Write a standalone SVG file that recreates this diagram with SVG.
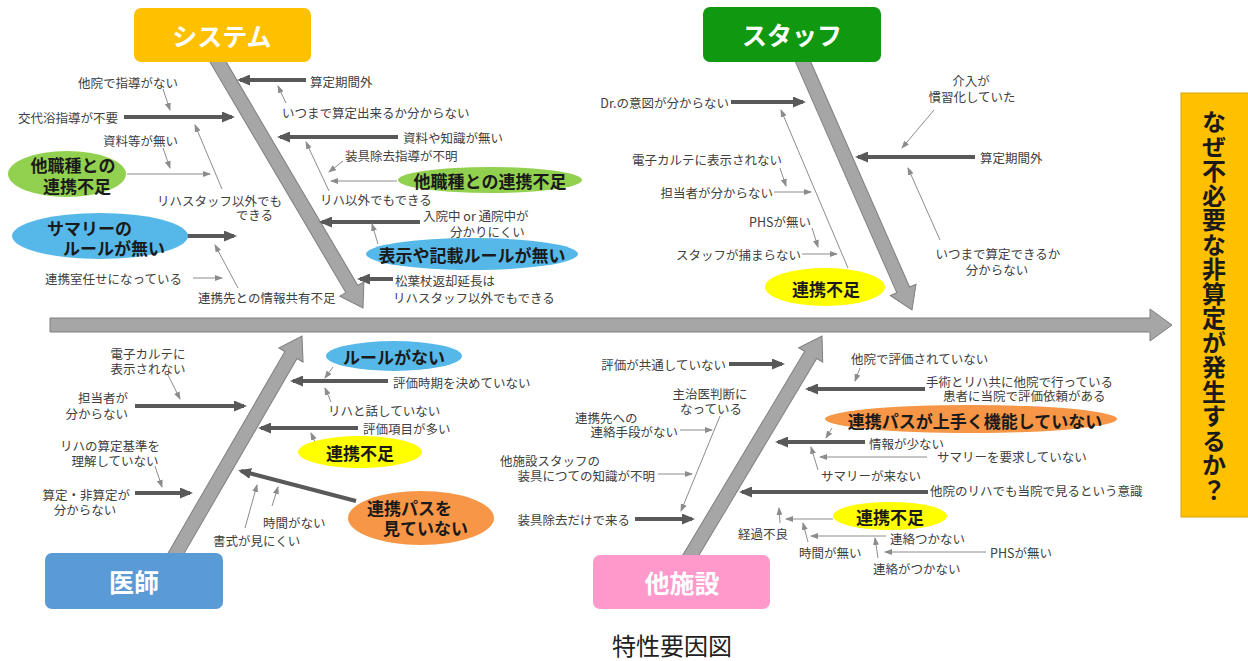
<svg xmlns="http://www.w3.org/2000/svg" width="1248" height="661" viewBox="0 0 1248 661">
<style>
.t{font-family:"Noto Sans CJK JP","Noto Sans",sans-serif;font-size:12.5px;fill:#404040;dominant-baseline:central}
.m{text-anchor:middle}.e{text-anchor:end}
.b{font-family:"Noto Sans CJK JP","Noto Sans",sans-serif;font-size:17px;font-weight:bold;fill:#1a1a1a;dominant-baseline:central}
.bx{font-family:"Noto Sans CJK JP","Noto Sans",sans-serif;font-size:25px;font-weight:bold;fill:#ffffff;dominant-baseline:central;text-anchor:middle}
.thick{stroke:#595959;stroke-width:4;fill:none;marker-end:url(#ah)}
.thin{stroke:#8c8c8c;stroke-width:1;fill:none;marker-end:url(#at)}
.bone{fill:#a6a6a6;stroke:#7f7f7f;stroke-width:1}
</style>
<defs>
<marker id="ah" viewBox="0 0 13 11" refX="10" refY="5.5" markerWidth="13" markerHeight="11" markerUnits="userSpaceOnUse" orient="auto"><path d="M0,0L13,5.5L0,11z" fill="#595959"/></marker>
<marker id="at" viewBox="0 0 8 6" refX="7" refY="3" markerWidth="8" markerHeight="6" markerUnits="userSpaceOnUse" orient="auto"><path d="M0,0L8,3L0,6z" fill="#8c8c8c"/></marker>
</defs>
<rect width="1248" height="661" fill="#ffffff"/>

<g id="spine">
<polygon class="bone" points="50,318 1150,318 1150,309 1172,325 1150,341 1150,332 50,332"/>
<polygon class="bone" transform="translate(363,308) rotate(59.5)" points="-294,-7 -22,-7 -22,-14 0,0 -22,14 -22,7 -294,7"/>
<polygon class="bone" transform="translate(912,310) rotate(66.3)" points="-279,-7 -22,-7 -22,-14 0,0 -22,14 -22,7 -279,7"/>
<polygon class="bone" transform="translate(302,336) rotate(-59.9)" points="-262,-7 -22,-7 -22,-14 0,0 -22,14 -22,7 -262,7"/>
<polygon class="bone" transform="translate(822,336) rotate(-59.1)" points="-264,-7 -22,-7 -22,-14 0,0 -22,14 -22,7 -264,7"/>
</g>

<g id="connectors">
<line class="thin" x1="163" y1="89" x2="170" y2="110"/>
<line class="thick" x1="124" y1="117" x2="232" y2="117"/>
<line class="thin" x1="163" y1="148" x2="170" y2="168"/>
<line class="thin" x1="127" y1="174" x2="210" y2="174"/>
<line class="thin" x1="222" y1="189" x2="195" y2="125"/>
<line class="thick" x1="187" y1="236" x2="234" y2="236"/>
<line class="thin" x1="193" y1="278" x2="222" y2="278"/>
<line class="thin" x1="238" y1="288" x2="215" y2="245"/>
<line class="thick" x1="306" y1="80" x2="240" y2="80"/>
<line class="thin" x1="286" y1="103" x2="278" y2="86"/>
<line class="thick" x1="398" y1="137" x2="280" y2="137"/>
<line class="thin" x1="343" y1="161" x2="329" y2="172"/>
<line class="thin" x1="397" y1="181" x2="331" y2="181"/>
<line class="thin" x1="329" y1="191" x2="306" y2="142"/>
<line class="thick" x1="420" y1="222" x2="322" y2="222"/>
<line class="thin" x1="378" y1="244" x2="372" y2="224"/>
<line class="thick" x1="393" y1="279" x2="360" y2="279"/>
<line class="thick" x1="731" y1="102" x2="803" y2="102"/>
<line class="thin" x1="780" y1="168" x2="786" y2="186"/>
<line class="thin" x1="774" y1="192" x2="811" y2="192"/>
<line class="thin" x1="812" y1="228" x2="818" y2="247"/>
<line class="thin" x1="802" y1="254" x2="837" y2="254"/>
<line class="thin" x1="848" y1="268" x2="781" y2="110"/>
<line class="thin" x1="934" y1="110" x2="902" y2="148"/>
<line class="thick" x1="975" y1="157" x2="858" y2="157"/>
<line class="thin" x1="940" y1="240" x2="908" y2="168"/>
<line class="thin" x1="168" y1="375" x2="180" y2="399"/>
<line class="thick" x1="135" y1="406" x2="244" y2="406"/>
<line class="thin" x1="155" y1="466" x2="162" y2="487"/>
<line class="thick" x1="135" y1="493" x2="190" y2="493"/>
<line class="thin" x1="333" y1="367" x2="325" y2="378"/>
<line class="thick" x1="388" y1="381" x2="293" y2="381"/>
<line class="thin" x1="331" y1="402" x2="325" y2="388"/>
<line class="thick" x1="358" y1="428" x2="261" y2="428"/>
<line class="thin" x1="315" y1="442" x2="311" y2="433"/>
<line class="thick" x1="356" y1="501" x2="241" y2="471"/>
<line class="thin" x1="272" y1="506" x2="278" y2="487"/>
<line class="thin" x1="245" y1="528" x2="257" y2="485"/>
<line class="thick" x1="729" y1="364" x2="782" y2="364"/>
<line class="thin" x1="680" y1="430" x2="712" y2="430"/>
<line class="thin" x1="658" y1="474" x2="692" y2="474"/>
<line class="thin" x1="720" y1="416" x2="681" y2="511"/>
<line class="thick" x1="635" y1="519" x2="692" y2="519"/>
<line class="thin" x1="860" y1="368" x2="855" y2="381"/>
<line class="thick" x1="925" y1="389" x2="808" y2="389"/>
<line class="thin" x1="832" y1="428" x2="826" y2="438"/>
<line class="thick" x1="865" y1="442" x2="778" y2="442"/>
<line class="thin" x1="927" y1="457" x2="820" y2="457"/>
<line class="thin" x1="818" y1="470" x2="811" y2="447"/>
<line class="thick" x1="928" y1="492" x2="742" y2="492"/>
<line class="thin" x1="833" y1="519" x2="786" y2="519"/>
<line class="thin" x1="780" y1="523" x2="779" y2="508"/>
<line class="thin" x1="886" y1="536" x2="811" y2="536"/>
<line class="thin" x1="808" y1="542" x2="803" y2="523"/>
<line class="thin" x1="986" y1="552" x2="885" y2="552"/>
<line class="thin" x1="878" y1="558" x2="875" y2="538"/>
</g>

<g id="node-system">
<rect x="134" y="8" width="177" height="54" rx="7" fill="#ffc000"/>
<text class="bx" x="222" y="35">システム</text>
</g>
<g id="node-staff">
<rect x="703" y="7" width="178" height="55" rx="7" fill="#109910"/>
<text class="bx" x="792" y="34">スタッフ</text>
</g>
<g id="node-doctor">
<rect x="45" y="553" width="178" height="56" rx="7" fill="#5b9bd5"/>
<text class="bx" x="134" y="581">医師</text>
</g>
<g id="node-facility">
<rect x="593" y="555" width="177" height="54" rx="7" fill="#ff99cc"/>
<text class="bx" x="682" y="582">他施設</text>
</g>

<g id="node-result">
<rect x="1181" y="93" width="70" height="424" fill="#ffc000" stroke="#d9a300" stroke-width="1"/>
<text x="1214" y="110" writing-mode="vertical-rl" letter-spacing="0.5" font-family="Noto Sans CJK JP, sans-serif" font-size="24" font-weight="bold" fill="#1a1a1a">なぜ不必要な非算定が発生するか？</text>
</g>

<g id="system-causes">
<text class="t" x="78" y="82">他院で指導がない</text>
<text class="t e" x="118" y="117">交代浴指導が不要</text>
<text class="t" x="103" y="140">資料等が無い</text>
<text class="t" x="157" y="200">リハスタッフ以外でも</text>
<text class="t e" x="273" y="214">できる</text>
<text class="t" x="45" y="278">連携室任せになっている</text>
<text class="t" x="198" y="297">連携先との情報共有不足</text>
<text class="t" x="310" y="81">算定期間外</text>
<text class="t" x="282" y="112">いつまで算定出来るか分からない</text>
<text class="t" x="403" y="137">資料や知識が無い</text>
<text class="t" x="345" y="155">装具除去指導が不明</text>
<text class="t" x="320" y="199">リハ以外でもできる</text>
<text class="t" x="423" y="215">入院中 or 通院中が</text>
<text class="t" x="450" y="231">分かりにくい</text>
<text class="t" x="395" y="280">松葉杖返却延長は</text>
<text class="t" x="393" y="297">リハスタッフ以外でもできる</text>
</g>
<g id="ellipse-system-1">
<ellipse cx="67" cy="174" rx="59" ry="23" fill="#92d050"/>
<text class="b m" x="73" y="164" font-size="18">他職種との</text>
<text class="b m" x="77" y="185" font-size="18">連携不足</text>
</g>
<g id="ellipse-system-2">
<ellipse cx="100" cy="236" rx="88" ry="23" fill="#56b8e8"/>
<text class="b" x="47" y="227" font-size="17.5">サマリーの</text>
<text class="b" x="63" y="247" font-size="17.5">ルールが無い</text>
</g>
<g id="ellipse-system-3">
<ellipse cx="490" cy="180" rx="92" ry="13" fill="#92d050"/>
<text class="b m" x="490" y="180">他職種との連携不足</text>
</g>
<g id="ellipse-system-4">
<ellipse cx="472" cy="254" rx="106" ry="16" fill="#56b8e8"/>
<text class="b m" x="472" y="254">表示や記載ルールが無い</text>
</g>

<g id="staff-causes">
<text class="t e" x="729" y="102">Dr.の意図が分からない</text>
<text class="t e" x="782" y="159">電子カルテに表示されない</text>
<text class="t e" x="773" y="192">担当者が分からない</text>
<text class="t e" x="811" y="221">PHSが無い</text>
<text class="t e" x="801" y="254">スタッフが捕まらない</text>
<text class="t m" x="971" y="80">介入が</text>
<text class="t m" x="972" y="96">慣習化していた</text>
<text class="t" x="980" y="157">算定期間外</text>
<text class="t m" x="998" y="253">いつまで算定できるか</text>
<text class="t m" x="997" y="269">分からない</text>
</g>
<g id="ellipse-staff">
<ellipse cx="825" cy="287" rx="60" ry="19" fill="#ffff00"/>
<text class="b m" x="826" y="288">連携不足</text>
</g>

<g id="doctor-causes">
<text class="t m" x="148" y="353">電子カルテに</text>
<text class="t m" x="148" y="368">表示されない</text>
<text class="t e" x="128" y="397">担当者が</text>
<text class="t e" x="128" y="413">分からない</text>
<text class="t m" x="110" y="445">リハの算定基準を</text>
<text class="t m" x="115" y="460">理解していない</text>
<text class="t e" x="130" y="494">算定・非算定が</text>
<text class="t m" x="85" y="509">分からない</text>
<text class="t" x="393" y="382">評価時期を決めていない</text>
<text class="t" x="328" y="410">リハと話していない</text>
<text class="t" x="363" y="428">評価項目が多い</text>
<text class="t" x="263" y="522">時間がない</text>
<text class="t" x="213" y="540">書式が見にくい</text>
</g>
<g id="ellipse-doctor-1">
<ellipse cx="394" cy="356" rx="68" ry="15" fill="#56b8e8"/>
<text class="b m" x="394" y="356">ルールがない</text>
</g>
<g id="ellipse-doctor-2">
<ellipse cx="360" cy="452" rx="62" ry="16" fill="#ffff00"/>
<text class="b m" x="360" y="452">連携不足</text>
</g>
<g id="ellipse-doctor-3">
<ellipse cx="421" cy="518" rx="73" ry="27" fill="#f79646"/>
<text class="b" x="367" y="507" font-size="18">連携パスを</text>
<text class="b" x="383" y="527" font-size="18">見ていない</text>
</g>

<g id="facility-causes">
<text class="t e" x="726" y="364">評価が共通していない</text>
<text class="t m" x="710" y="393">主治医判断に</text>
<text class="t m" x="711" y="408">なっている</text>
<text class="t" x="575" y="417">連携先への</text>
<text class="t e" x="678" y="431">連絡手段がない</text>
<text class="t" x="500" y="460">他施設スタッフの</text>
<text class="t e" x="655" y="475">装具につての知識が不明</text>
<text class="t e" x="630" y="519">装具除去だけで来る</text>
<text class="t" x="851" y="358">他院で評価されていない</text>
<text class="t" x="926" y="381">手術とリハ共に他院で行っている</text>
<text class="t" x="943" y="395">患者に当院で評価依頼がある</text>
<text class="t" x="869" y="443">情報が少ない</text>
<text class="t" x="937" y="456">サマリーを要求していない</text>
<text class="t" x="821" y="475">サマリーが来ない</text>
<text class="t" x="930" y="490">他院のリハでも当院で見るという意識</text>
<text class="t" x="738" y="533">経過不良</text>
<text class="t" x="890" y="538">連絡つかない</text>
<text class="t" x="799" y="552">時間が無い</text>
<text class="t" x="990" y="552">PHSが無い</text>
<text class="t" x="873" y="568">連絡がつかない</text>
</g>
<g id="ellipse-facility-1">
<ellipse cx="971" cy="419" rx="146" ry="14" fill="#f79646"/>
<text class="b m" x="975" y="420">連携パスが上手く機能していない</text>
</g>
<g id="ellipse-facility-2">
<ellipse cx="890" cy="516" rx="57" ry="14" fill="#ffff00"/>
<text class="b m" x="890" y="516">連携不足</text>
</g>

<g id="caption">
<text x="672" y="644" font-family="Noto Sans CJK JP, sans-serif" font-size="24" fill="#222222" text-anchor="middle" dominant-baseline="central">特性要因図</text>
</g>
</svg>
